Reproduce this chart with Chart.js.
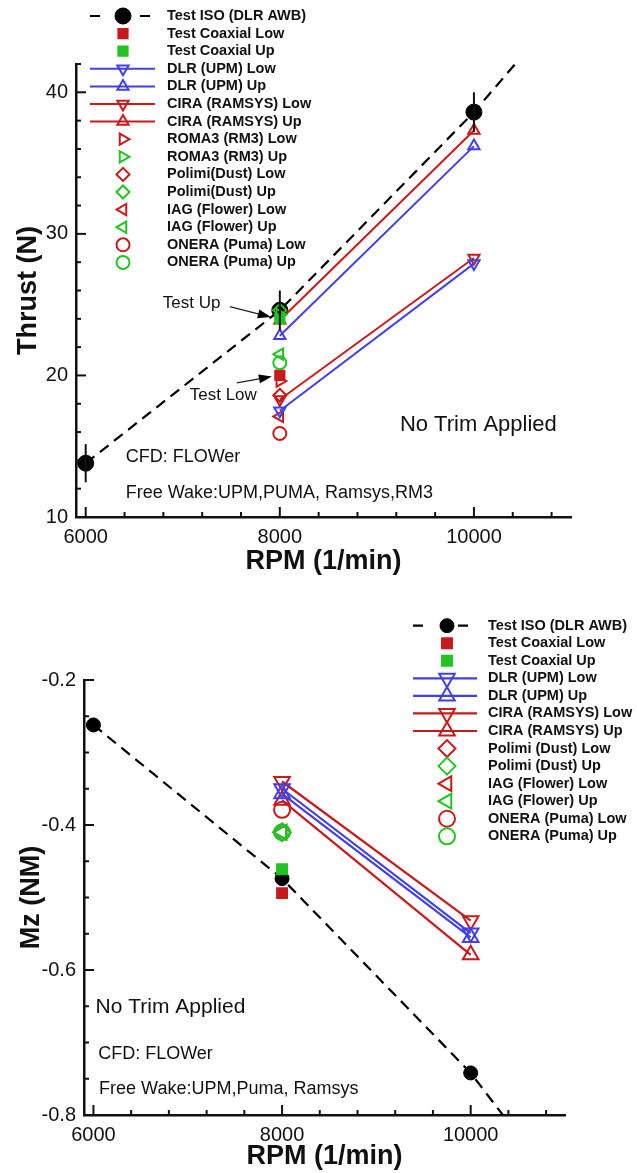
<!doctype html>
<html lang="en">

<head>
  <meta charset="utf-8">
  <title>Rotor thrust and yaw moment vs RPM</title>
  <style>
    * {
      margin: 0;
      padding: 0;
    }

    body {
      background: #fff;
      width: 637px;
      height: 1173px;
      position: relative;
      overflow: hidden;
    }

    canvas {
      position: absolute;
      left: 0;
    }

    #thrustChart {
      top: 0;
    }

    #mzChart {
      top: 590px;
    }
  </style>
</head>

<body>
  <canvas id="thrustChart" width="637" height="590"></canvas>
  <canvas id="mzChart" width="637" height="583"></canvas>
  <script src="https://cdn.jsdelivr.net/npm/chart.js"></script>
  <script>
    // ---- thrust data ----
    // last ISO point only carries the dashed trend past the top of the frame
    const isoRpm = [6000, 8000, 10000, 10500]
    const isoThrust = [13.8, 24.6, 38.6, 42.6]
    const isoThrustErr = [1.35, 1.4, 1.4]
    const cfdRpm = [8000, 10000]
    const dlrLowThrust = [17.5, 27.9]
    const dlrUpThrust = [22.8, 36.2]
    const ciraLowThrust = [18.3, 28.3]
    const ciraUpThrust = [23.9, 37.3]
    const singleRpm = [8000]
    const coaxLowThrust = [20.0]
    const coaxUpThrust = [24.0]
    const roma3LowThrust = [19.6]
    const roma3UpThrust = [24.3]
    const polimiLowThrust = [18.6]
    const polimiUpThrust = [24.6]
    const iagLowThrust = [17.1]
    const iagUpThrust = [21.5]
    const oneraLowThrust = [15.9]
    const oneraUpThrust = [20.9]

    // ---- yaw moment data ----
    const isoMzRpm = [6000, 8000, 10000, 10400]
    const isoMz = [-0.262, -0.474, -0.742, -0.81]
    const dlrLowMz = [-0.350, -0.549]
    const dlrUpMz = [-0.357, -0.555]
    const ciraLowMz = [-0.340, -0.532]
    const ciraUpMz = [-0.366, -0.579]
    const coaxLowMz = [-0.494]
    const coaxUpMz = [-0.461]
    const polimiLowMz = [-0.41]
    const polimiUpMz = [-0.41]
    const iagLowMz = [-0.41]
    const iagUpMz = [-0.41]
    const oneraLowMz = [-0.379]
    const oneraUpMz = [-0.41]

    // ticks
    const rpmTicks = [6000, 8000, 10000]
    const thrustTicks = [10, 20, 30, 40]
    const mzTicks = [-0.8, -0.6, -0.4, -0.2]

    const RED = '#c81a1a'
    const BLUE = '#4040e6'
    const GREEN = '#22c422'
    const INK = '#111'
    const FONT = "'Liberation Sans', Arial, sans-serif"

    const DOWN = { style: 'triangle', rot: 180 }
    const UP = { style: 'triangle', rot: 0 }
    const RIGHT = { style: 'triangle', rot: 90 }
    const LEFT = { style: 'triangle', rot: 270 }
    const DIAMOND = { style: 'rectRot', rot: 0 }
    const CIRCLE = { style: 'circle', rot: 0 }
    const SQUARE = { style: 'rect', rot: 0 }

    function pts(xs, ys) {
      return ys.map((y, i) => ({ x: xs[i], y: y }))
    }

    // one symbol series, optionally joined by a solid line
    function series(label, xs, ys, color, shape, r, opts) {
      opts = opts || {}
      return {
        label: label,
        data: pts(xs, ys),
        showLine: !!opts.line,
        borderColor: color,
        backgroundColor: color,
        borderWidth: opts.lineWidth || 2,
        pointStyle: shape.style,
        pointRotation: shape.rot,
        pointRadius: r,
        pointBorderColor: color,
        pointBackgroundColor: opts.filled ? color : 'rgba(0,0,0,0)',
        pointBorderWidth: 2,
        order: opts.order === undefined ? 1 : opts.order
      }
    }

    function isoSeries(label, xs, ys, radii) {
      return {
        label: label,
        data: pts(xs, ys),
        showLine: true,
        borderColor: '#000',
        borderWidth: 2.2,
        borderDash: [11, 7],
        pointStyle: 'circle',
        pointRotation: 0,
        pointRadius: radii,
        pointBorderColor: '#000',
        pointBackgroundColor: '#000',
        pointBorderWidth: 1,
        order: 3
      }
    }

    function drawMarker(ctx, style, r, rot, x, y, fill, stroke, lw) {
      const a = (rot || 0) * Math.PI / 180
      ctx.beginPath()
      if (style === 'circle') {
        ctx.arc(x, y, r, 0, 2 * Math.PI)
      } else if (style === 'triangle') {
        for (let k = 0; k < 3; k++) {
          const t = a + k * 2 * Math.PI / 3
          const px = x + Math.sin(t) * r
          const py = y - Math.cos(t) * r
          if (k) ctx.lineTo(px, py); else ctx.moveTo(px, py)
        }
        ctx.closePath()
      } else if (style === 'rect') {
        const s = Math.SQRT1_2 * r
        ctx.rect(x - s, y - s, 2 * s, 2 * s)
      } else if (style === 'rectRot') {
        ctx.moveTo(x - r, y)
        ctx.lineTo(x, y - r)
        ctx.lineTo(x + r, y)
        ctx.lineTo(x, y + r)
        ctx.closePath()
      }
      ctx.fillStyle = fill
      ctx.fill()
      ctx.lineWidth = lw
      ctx.strokeStyle = stroke
      ctx.stroke()
    }

    // inward tick marks, error bars, notes, arrows and the legend block
    const decor = {
      id: 'decor',
      afterDraw(chart, args, o) {
        const ctx = chart.ctx
        const xs = chart.scales.x
        const ys = chart.scales.y
        const area = chart.chartArea
        ctx.save()

        // ticks pointing into the plot
        ctx.strokeStyle = INK
        ctx.lineWidth = 2
        ctx.setLineDash([])
        for (let i = 0; ; i++) {
          const v = o.ticks.xStart + i * o.ticks.xMinor
          if (v > xs.max + 1e-9) break
          const q = v / o.ticks.xMajor
          const len = Math.abs(q - Math.round(q)) < 1e-6 ? 10 : 5
          const px = xs.getPixelForValue(v)
          ctx.beginPath()
          ctx.moveTo(px, area.bottom)
          ctx.lineTo(px, area.bottom - len)
          ctx.stroke()
        }
        for (let i = 0; ; i++) {
          const v = o.ticks.yStart + i * o.ticks.yMinor
          if (v > ys.max + 1e-9) break
          const q = v / o.ticks.yMajor
          const len = Math.abs(q - Math.round(q)) < 1e-6 ? 10 : 5
          const py = ys.getPixelForValue(v)
          ctx.beginPath()
          ctx.moveTo(area.left, py)
          ctx.lineTo(area.left + len, py)
          ctx.stroke()
        }

        // error bars on the ISO test points
        if (o.errors) {
          const iso = chart.data.datasets[0].data
          ctx.lineWidth = 2
          o.errors.forEach((e, i) => {
            const px = xs.getPixelForValue(iso[i].x)
            ctx.beginPath()
            ctx.moveTo(px, ys.getPixelForValue(iso[i].y - e))
            ctx.lineTo(px, ys.getPixelForValue(iso[i].y + e))
            ctx.stroke()
          })
        }

        // free text
        ctx.fillStyle = INK
        ctx.textAlign = 'left'
        ctx.textBaseline = 'middle'
        o.notes.forEach(n => {
          ctx.font = n.size + 'px ' + FONT
          ctx.fillText(n.text, xs.getPixelForValue(n.x), ys.getPixelForValue(n.y))
        })

        // pointer arrows
        ;(o.arrows || []).forEach(a => {
          const x0 = xs.getPixelForValue(a.from[0]), y0 = ys.getPixelForValue(a.from[1])
          const x1 = xs.getPixelForValue(a.to[0]), y1 = ys.getPixelForValue(a.to[1])
          const ang = Math.atan2(y1 - y0, x1 - x0)
          const hl = 13, hw = 4.5
          const bx = x1 - Math.cos(ang) * hl, by = y1 - Math.sin(ang) * hl
          ctx.strokeStyle = '#222'
          ctx.lineWidth = 1.3
          ctx.beginPath()
          ctx.moveTo(x0, y0)
          ctx.lineTo(bx, by)
          ctx.stroke()
          ctx.fillStyle = '#000'
          ctx.beginPath()
          ctx.moveTo(x1, y1)
          ctx.lineTo(bx - Math.sin(ang) * hw, by + Math.cos(ang) * hw)
          ctx.lineTo(bx + Math.sin(ang) * hw, by - Math.cos(ang) * hw)
          ctx.closePath()
          ctx.fill()
        })

        // legend
        const L = o.legend
        chart.data.datasets.forEach((ds, i) => {
          const yy = L.y0 + i * L.dy
          if (ds.showLine) {
            ctx.strokeStyle = ds.borderColor
            ctx.lineWidth = ds.borderWidth
            ctx.beginPath()
            if (ds.borderDash) {
              ctx.setLineDash(L.dash)
              ctx.moveTo(L.x0, yy)
              ctx.lineTo(L.dashEnd, yy)
            } else {
              ctx.setLineDash([])
              ctx.moveTo(L.x0, yy)
              ctx.lineTo(L.x1, yy)
            }
            ctx.stroke()
            ctx.setLineDash([])
          }
          const r = Array.isArray(ds.pointRadius) ? ds.pointRadius[0] : ds.pointRadius
          drawMarker(ctx, ds.pointStyle, r, ds.pointRotation, L.cx, yy,
            ds.pointBackgroundColor, ds.pointBorderColor, ds.pointBorderWidth)
          ctx.fillStyle = INK
          ctx.font = 'bold 14.5px ' + FONT
          ctx.textAlign = 'left'
          ctx.textBaseline = 'middle'
          ctx.fillText(ds.label, L.tx, yy)
        })

        ctx.restore()
      }
    }

    function makeChart(id, d) {
      return new Chart(document.getElementById(id), {
        type: 'scatter',
        data: { datasets: d.datasets },
        options: {
          responsive: false,
          animation: false,
          events: [],
          elements: { line: { tension: 0 } },
          layout: { padding: d.padding, autoPadding: false },
          plugins: {
            legend: { display: false },
            tooltip: { enabled: false },
            decor: d.decor
          },
          scales: {
            x: {
              type: 'linear',
              min: 5900,
              max: 11000,
              afterFit: s => { s.height = d.xHeight },
              afterBuildTicks: s => { s.ticks = rpmTicks.map(v => ({ value: v })) },
              grid: { display: false, drawTicks: false },
              border: { display: true, color: INK, width: 2.5 },
              ticks: {
                autoSkip: false,
                maxRotation: 0,
                padding: 8,
                color: INK,
                font: { family: FONT, size: 20 },
                callback: v => String(v)
              },
              title: {
                display: true,
                text: 'RPM (1/min)',
                color: INK,
                padding: { top: 0, bottom: d.xTitlePad },
                font: { family: FONT, size: 27, weight: 'bold' }
              }
            },
            y: {
              type: 'linear',
              min: d.yMin,
              max: d.yMax,
              afterFit: s => { s.width = d.yWidth },
              afterBuildTicks: s => { s.ticks = d.yTicks.map(v => ({ value: v })) },
              grid: { display: false, drawTicks: false },
              border: { display: true, color: INK, width: 2.5 },
              ticks: {
                autoSkip: false,
                padding: 8,
                color: INK,
                font: { family: FONT, size: 20 },
                callback: v => String(v)
              },
              title: {
                display: true,
                text: d.yTitle,
                color: INK,
                padding: { top: d.yTitlePad, bottom: 0 },
                font: { family: FONT, size: 27, weight: 'bold' }
              }
            }
          }
        },
        plugins: [decor]
      })
    }

    // ---- upper plot: thrust ----
    const rT = 6.5
    makeChart('thrustChart', {
      datasets: [
        isoSeries('Test ISO (DLR AWB)', isoRpm, isoThrust, [8, 8, 8, 0]),
        series('Test Coaxial Low', singleRpm, coaxLowThrust, RED, SQUARE, rT, { filled: true }),
        series('Test Coaxial Up', singleRpm, coaxUpThrust, GREEN, SQUARE, rT, { filled: true, order: 0 }),
        series('DLR (UPM) Low', cfdRpm, dlrLowThrust, BLUE, DOWN, rT, { line: true }),
        series('DLR (UPM) Up', cfdRpm, dlrUpThrust, BLUE, UP, rT, { line: true }),
        series('CIRA (RAMSYS) Low', cfdRpm, ciraLowThrust, RED, DOWN, rT, { line: true }),
        series('CIRA (RAMSYS) Up', cfdRpm, ciraUpThrust, RED, UP, rT, { line: true }),
        series('ROMA3 (RM3) Low', singleRpm, roma3LowThrust, RED, RIGHT, rT),
        series('ROMA3 (RM3) Up', singleRpm, roma3UpThrust, GREEN, RIGHT, rT, { order: 0 }),
        series('Polimi(Dust) Low', singleRpm, polimiLowThrust, RED, DIAMOND, rT),
        series('Polimi(Dust) Up', singleRpm, polimiUpThrust, GREEN, DIAMOND, rT, { order: 0 }),
        series('IAG (Flower) Low', singleRpm, iagLowThrust, RED, LEFT, rT),
        series('IAG (Flower) Up', singleRpm, iagUpThrust, GREEN, LEFT, rT, { order: 0 }),
        series('ONERA (Puma) Low', singleRpm, oneraLowThrust, RED, CIRCLE, rT),
        series('ONERA (Puma) Up', singleRpm, oneraUpThrust, GREEN, CIRCLE, rT, { order: 0 })
      ],
      padding: { left: 0, top: 64, right: 66, bottom: 0 },
      xHeight: 73,
      yWidth: 76,
      xTitlePad: 12,
      yTitlePad: 12,
      yMin: 10,
      yMax: 42,
      yTicks: thrustTicks,
      yTitle: 'Thrust (N)',
      decor: {
        ticks: { xStart: 6000, xMinor: 400, xMajor: 2000, yStart: 10, yMinor: 2, yMajor: 10 },
        errors: isoThrustErr,
        notes: [
          { text: 'No Trim Applied', x: 9237, y: 16.5, size: 22 },
          { text: 'CFD: FLOWer', x: 6412, y: 14.24, size: 18 },
          { text: 'Free Wake:UPM,PUMA, Ramsys,RM3', x: 6412, y: 11.7, size: 18 },
          { text: 'Test Up', x: 6794, y: 25.1, size: 17 },
          { text: 'Test Low', x: 7072, y: 18.6, size: 17 }
        ],
        arrows: [
          { from: [7485, 24.86], to: [7907, 24.13] },
          { from: [7557, 19.47], to: [7918, 19.93] }
        ],
        legend: { x0: 90, x1: 155, dashEnd: 150, dash: [10, 40], cx: 123, tx: 167, y0: 16, dy: 17.6 }
      }
    })

    // ---- lower plot: yaw moment ----
    const rM = 8.5
    makeChart('mzChart', {
      datasets: [
        isoSeries('Test ISO (DLR AWB)', isoMzRpm, isoMz, [7, 7, 7, 0]),
        series('Test Coaxial Low', singleRpm, coaxLowMz, RED, SQUARE, 7, { filled: true }),
        series('Test Coaxial Up', singleRpm, coaxUpMz, GREEN, SQUARE, 7, { filled: true, order: 0 }),
        series('DLR (UPM) Low', cfdRpm, dlrLowMz, BLUE, DOWN, 9, { line: true, lineWidth: 2.2 }),
        series('DLR (UPM) Up', cfdRpm, dlrUpMz, BLUE, UP, 9, { line: true, lineWidth: 2.2 }),
        series('CIRA (RAMSYS) Low', cfdRpm, ciraLowMz, RED, DOWN, 9, { line: true, lineWidth: 2.2 }),
        series('CIRA (RAMSYS) Up', cfdRpm, ciraUpMz, RED, UP, 9, { line: true, lineWidth: 2.2 }),
        series('Polimi (Dust) Low', singleRpm, polimiLowMz, RED, DIAMOND, rM, { order: 2 }),
        series('Polimi (Dust) Up', singleRpm, polimiUpMz, GREEN, DIAMOND, rM, { order: 0 }),
        series('IAG (Flower) Low', singleRpm, iagLowMz, RED, LEFT, rM, { order: 2 }),
        series('IAG (Flower) Up', singleRpm, iagUpMz, GREEN, LEFT, rM, { order: 0 }),
        series('ONERA (Puma) Low', singleRpm, oneraLowMz, RED, CIRCLE, 8),
        series('ONERA (Puma) Up', singleRpm, oneraUpMz, GREEN, CIRCLE, 8, { order: 0 })
      ],
      padding: { left: 0, top: 90, right: 72, bottom: 0 },
      xHeight: 58,
      yWidth: 84,
      xTitlePad: 0,
      yTitlePad: 15,
      yMin: -0.8,
      yMax: -0.2,
      yTicks: mzTicks,
      yTitle: 'Mz (NM)',
      decor: {
        ticks: { xStart: 6000, xMinor: 400, xMajor: 2000, yStart: -0.8, yMinor: 0.05, yMajor: 0.2 },
        notes: [
          { text: 'No Trim Applied', x: 6023, y: -0.651, size: 21 },
          { text: 'CFD: FLOWer', x: 6050, y: -0.716, size: 18 },
          { text: 'Free Wake:UPM,Puma, Ramsys', x: 6060, y: -0.764, size: 18 }
        ],
        legend: { x0: 413, x1: 477, dashEnd: 468, dash: [10, 35], cx: 447, tx: 488, y0: 35.7, dy: 17.55 }
      }
    })
  </script>
</body>

</html>
